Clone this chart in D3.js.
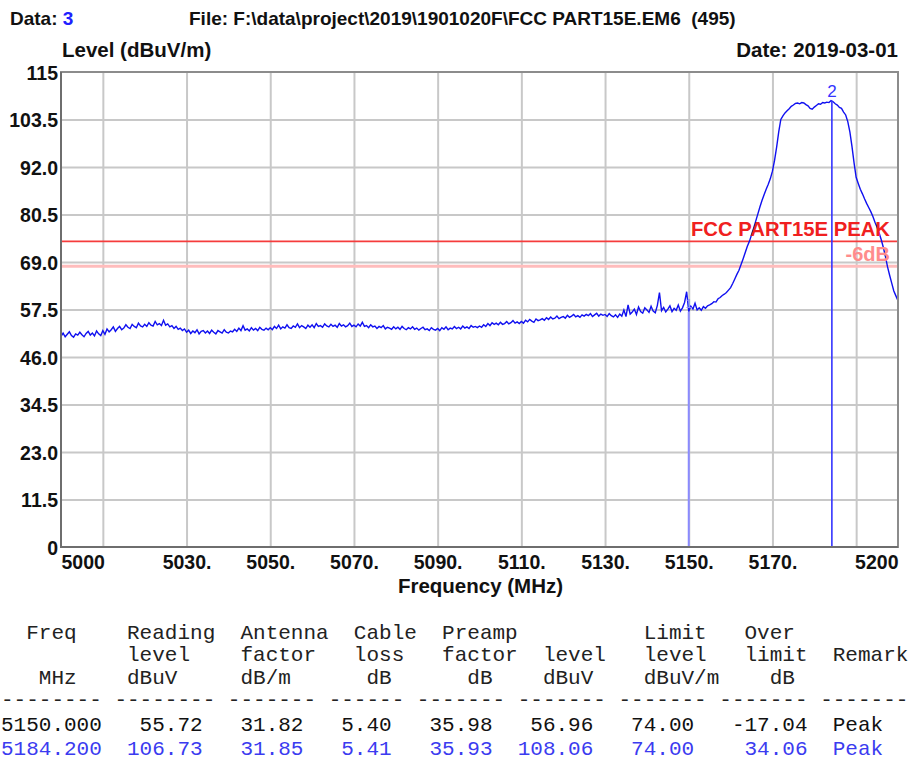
<!DOCTYPE html>
<html>
<head>
<meta charset="utf-8">
<script src="https://cdn.jsdelivr.net/npm/d3@7"></script>
<style>
    body { margin: 0; background: #fff; }
    svg { display: block; }
    .lbl { font-family: "Liberation Sans", Arial, sans-serif; font-weight: bold; font-size: 19px; fill: #111; }
    .title { font-size: 20.5px; }
    .tick-lbl { font-size: 19.5px; }
    .tbl { font-family: "Liberation Mono", monospace; font-size: 21px; white-space: pre; }
    .grid line { stroke: #c8c8c8; stroke-width: 2; }
    .grid .domain { display: none; }
    .axis .domain, .axis line { display: none; }
</style>
</head>
<body>
<div id="chart"></div>
<script>
const width = 914;
const height = 760;

const plot = { left: 61, right: 898, top: 72, bottom: 547 };

// trace: 5000 .. 5200 MHz, 0.5 MHz step
const freqStart = 5000;
const freqStep = 0.5;
const levels = [
    51.0, 51.8, 50.9, 51.5, 52.1, 51.2, 50.8, 51.6, 51.3, 52.0,
    51.4, 50.9, 51.7, 52.2, 51.3, 51.8, 51.1, 52.3, 51.6, 51.2,
    52.4, 51.5, 52.8, 52.1, 52.6, 53.3, 52.2, 52.9, 53.4, 52.6,
    53.0, 53.8, 53.2, 52.9, 53.9, 53.4, 53.1, 54.2, 53.5, 53.3,
    53.9, 53.4, 54.3, 53.7, 53.5, 54.6, 53.8, 54.1, 53.6, 54.9,
    53.7, 54.0, 53.3, 53.6, 52.9, 53.4, 52.7, 53.0, 52.4, 52.8,
    52.0, 52.5, 51.7, 52.3, 51.9, 52.6, 51.6, 52.2, 52.4, 51.8,
    52.3, 51.7, 52.5, 52.0, 51.6, 52.4, 52.1, 51.8, 52.6, 52.0,
    51.8, 52.3, 52.1, 52.7, 52.2, 53.0, 52.4, 53.6, 52.5, 52.8,
    52.3, 53.1, 52.5, 52.9, 52.4, 53.2, 52.7, 52.5, 53.0, 52.6,
    53.1, 52.6, 53.4, 52.9, 53.7, 52.8, 53.3, 53.0, 53.8, 53.1,
    52.9, 53.5, 53.2, 54.0, 53.1, 53.6, 53.3, 52.9, 53.7, 53.2,
    53.8, 53.1, 54.1, 53.4, 53.6, 53.2, 54.0, 53.5, 53.3, 53.9,
    53.4, 53.7, 53.2, 54.1, 53.5, 53.8, 53.3, 53.6, 54.2, 53.4,
    53.7, 53.3, 54.0, 53.5, 54.4, 53.4, 53.6, 53.1, 53.8, 53.3,
    53.5, 52.9, 53.4, 53.1, 53.6, 52.8, 53.2, 53.0, 52.7, 53.3,
    52.8, 53.2, 52.7, 53.4, 52.9, 52.6, 53.1, 52.8, 53.3, 52.7,
    53.0, 52.5, 52.9, 53.2, 52.6, 52.8, 52.4, 53.1, 52.7, 52.5,
    52.9, 52.4, 53.1, 52.7, 53.3, 52.6, 53.0, 52.8, 53.4, 52.9,
    53.2, 52.8, 53.5, 53.0, 53.3, 52.9, 53.6, 53.2, 53.4, 53.1,
    53.5, 53.2, 53.8, 53.4, 54.1, 53.6, 54.3, 53.9, 54.2, 53.8,
    54.4, 53.9, 54.1, 54.6, 54.0, 54.3, 54.8, 54.2, 54.5, 54.1,
    54.6, 54.2, 54.9, 54.5, 55.1, 54.7, 54.4, 55.2, 54.8, 55.0,
    55.3, 54.9, 55.5, 55.1, 55.7, 55.2, 55.4, 55.9, 55.3, 55.6,
    55.8, 55.4, 56.1, 55.6, 55.9, 56.3, 55.7, 56.0, 55.6, 56.2,
    55.9, 56.3, 56.0, 56.5, 55.8, 56.2, 56.6, 55.9, 56.4, 56.1,
    56.3, 55.8, 56.5, 56.0, 55.7, 56.2, 55.6, 56.4, 55.9, 57.4,
    55.8, 58.6, 56.4, 56.9, 57.6, 56.3, 58.1, 57.0, 56.6, 57.9,
    57.4, 56.8, 58.3, 57.1, 56.7, 58.5, 61.6, 57.2, 58.0, 56.9,
    57.6, 58.4, 57.0, 57.8, 57.3, 58.6, 57.1, 57.9, 59.2, 61.8,
    57.0, 58.3, 57.6, 59.0, 57.4, 57.9, 57.3, 58.2, 57.8, 58.4,
    58.6, 58.9, 59.4, 59.3, 60.1, 60.4, 60.9, 61.2, 61.6, 62.2,
    62.8, 63.8, 64.9, 66.0, 67.0, 68.4, 69.8, 71.3, 72.8, 74.0,
    75.6, 77.2, 78.9, 80.6, 82.3, 83.9, 85.3, 86.6, 87.8, 89.2,
    91.0, 93.6, 96.8, 100.5, 103.5, 104.4, 105.1, 105.6, 106.1, 106.7,
    107.0, 107.4, 107.5, 107.3, 107.6, 107.5, 107.1, 106.8, 106.2, 106.0,
    106.5, 106.9, 107.3, 107.2, 107.6, 107.5, 107.7, 107.6, 108.06, 107.8,
    107.3, 107.0, 106.4, 106.2, 105.3, 104.6, 103.0, 100.5, 97.0, 93.0,
    89.5, 88.0, 86.6, 85.5, 84.3, 83.2, 82.2, 81.2, 80.0, 78.6,
    77.4, 76.0, 74.4, 72.5, 70.3, 67.8, 65.8, 63.9, 62.0, 60.8,
    59.6
];

const yTicks = [0, 11.5, 23, 34.5, 46, 57.5, 69, 80.5, 92, 103.5, 115];
const yTickLabels = ["0", "11.5", "23.0", "34.5", "46.0", "57.5", "69.0", "80.5", "92.0", "103.5", "115"];
const xGrid = [5010, 5030, 5050, 5070, 5090, 5110, 5130, 5150, 5170, 5190];
const xTicks = [5000, 5030, 5050, 5070, 5090, 5110, 5130, 5150, 5170, 5200];
const xTickLabels = ["5000", "5030.", "5050.", "5070.", "5090.", "5110.", "5130.", "5150.", "5170.", "5200"];

const limitLevel = 74;
const limitName = "FCC PART15E PEAK";
const marginLevel = 68;
const marginName = "-6dB";

const markerLabels = ["1", "2"];
const markerFreqs = [5150.0, 5184.2];
const markerLevels = [56.96, 108.06];

const tableHeader = [
    "  Freq    Reading  Antenna  Cable  Preamp          Limit   Over",
    "          level    factor   loss   factor  level   level   limit  Remark",
    "   MHz    dBuV     dB/m      dB      dB    dBuV    dBuV/m    dB",
    "-------- -------- ------- ------ ------- ------- ------- ------- -------"
];
const tableRows = [
    "5150.000   55.72   31.82   5.40   35.98   56.96   74.00   -17.04  Peak",
    "5184.200  106.73   31.85   5.41   35.93  108.06   74.00    34.06  Peak"
];
const rowColors = ["#111", "#3b3bf0"];

////////////////////////////////////////////////////////
// SVG + SCALES
////////////////////////////////////////////////////////

const svg = d3.select("#chart")
    .append("svg")
    .attr("width", width)
    .attr("height", height);

svg.append("rect").attr("width", width).attr("height", height).attr("fill", "#fff");

const x = d3.scaleLinear()
    .domain([5000, 5200])
    .range([plot.left, plot.right]);

const y = d3.scaleLinear()
    .domain([0, 115])
    .range([plot.bottom, plot.top]);

// GRID
svg.append("g")
    .attr("class", "grid")
    .attr("transform", `translate(${plot.left},0)`)
    .call(d3.axisLeft(y).tickValues(yTicks.slice(1, -1))
        .tickSize(-(plot.right - plot.left)).tickFormat(""));

svg.append("g")
    .attr("class", "grid")
    .attr("transform", `translate(0,${plot.bottom})`)
    .call(d3.axisBottom(x).tickValues(xGrid)
        .tickSize(-(plot.bottom - plot.top)).tickFormat(""));

// LIMIT LINES
svg.append("line")
    .attr("x1", x(5000)).attr("x2", x(5200))
    .attr("y1", y(marginLevel)).attr("y2", y(marginLevel))
    .attr("stroke", "#ffbcbc").attr("stroke-width", 3);

svg.append("line")
    .attr("x1", x(5000)).attr("x2", x(5200))
    .attr("y1", y(limitLevel)).attr("y2", y(limitLevel))
    .attr("stroke", "#f53c3c").attr("stroke-width", 1.6);

// TRACE
const line = d3.line()
    .x((d, i) => x(freqStart + i * freqStep))
    .y(d => y(d));

svg.append("path")
    .datum(levels)
    .attr("fill", "none")
    .attr("stroke", "#1010f0")
    .attr("stroke-width", 1.4)
    .attr("d", line);

// LIMIT TEXT
svg.append("text")
    .attr("class", "lbl")
    .attr("x", plot.right - 8)
    .attr("y", y(limitLevel) - 5)
    .attr("text-anchor", "end")
    .style("fill", "#f02020")
    .style("font-size", "20.3px")
    .text(limitName);

svg.append("text")
    .attr("class", "lbl")
    .attr("x", plot.right - 8)
    .attr("y", y(marginLevel) - 5)
    .attr("text-anchor", "end")
    .style("fill", "#ff8c8c")
    .style("font-size", "20px")
    .text(marginName);

// MARKERS
const markerColors = ["#8a8aff", "#3434ff"];
markerFreqs.forEach((f, i) => {
    svg.append("line")
        .attr("x1", x(f)).attr("x2", x(f))
        .attr("y1", y(0)).attr("y2", y(markerLevels[i]))
        .attr("stroke", markerColors[i])
        .attr("stroke-width", i === 0 ? 2 : 1.6);
    svg.append("text")
        .attr("x", x(f))
        .attr("y", y(markerLevels[i]) - 4)
        .attr("text-anchor", "middle")
        .style("font-family", "Liberation Sans, Arial, sans-serif")
        .style("font-size", i === 0 ? "12px" : "17px")
        .style("fill", markerColors[i])
        .text(markerLabels[i]);
});

// FRAME
svg.append("rect")
    .attr("x", plot.left).attr("y", plot.top)
    .attr("width", plot.right - plot.left)
    .attr("height", plot.bottom - plot.top)
    .attr("fill", "none")
    .attr("stroke", "#8c8c8c")
    .attr("stroke-width", 2);

svg.append("path")
    .attr("d", `M${plot.left},${plot.top}V${plot.bottom}H${plot.right}`)
    .attr("fill", "none")
    .attr("stroke", "#6e6e6e")
    .attr("stroke-width", 2);

// Y AXIS
const yAxis = svg.append("g")
    .attr("class", "axis")
    .attr("transform", `translate(${plot.left},0)`)
    .call(d3.axisLeft(y).tickValues(yTicks).tickSize(0).tickPadding(3)
        .tickFormat((d, i) => yTickLabels[i]));
yAxis.attr("font-family", null).attr("font-size", null);
yAxis.selectAll("text")
    .attr("class", "lbl tick-lbl")
    .attr("dy", "0.36em");

// X AXIS
const xAxis = svg.append("g")
    .attr("class", "axis")
    .attr("transform", `translate(0,${plot.bottom})`)
    .call(d3.axisBottom(x).tickValues(xTicks).tickSize(0).tickPadding(8)
        .tickFormat((d, i) => xTickLabels[i]));
xAxis.attr("font-family", null).attr("font-size", null);
xAxis.selectAll("text")
    .attr("class", "lbl tick-lbl")
    .attr("dy", "0.71em")
    .attr("text-anchor", (d, i) => i === 0 ? "start" : i === xTicks.length - 1 ? "end" : "middle");

// LABELS
svg.append("text").attr("class", "lbl title")
    .attr("x", (plot.left + plot.right) / 2 + 1).attr("y", 593)
    .attr("text-anchor", "middle")
    .text("Frequency (MHz)");

svg.append("text").attr("class", "lbl title")
    .attr("x", plot.left + 1).attr("y", 57)
    .text("Level (dBuV/m)");

svg.append("text").attr("class", "lbl title")
    .attr("x", plot.right).attr("y", 57)
    .attr("text-anchor", "end")
    .text("Date: 2019-03-01");

const dataLbl = svg.append("text").attr("class", "lbl")
    .attr("x", 10).attr("y", 25);
dataLbl.append("tspan").text("Data: ");
dataLbl.append("tspan").style("fill", "#2020ff").text("3");

svg.append("text").attr("class", "lbl")
    .attr("x", 189).attr("y", 25)
    .style("white-space", "pre")
    .text("File: F:\\data\\project\\2019\\1901020F\\FCC PART15E.EM6  (495)");

// TABLE
const headerY = [639, 661, 684, 706];
tableHeader.forEach((t, i) => {
    svg.append("text")
        .attr("class", "tbl")
        .attr("x", 1)
        .attr("y", headerY[i])
        .style("fill", "#222")
        .text(t);
});

const rowY = [731, 755];
tableRows.forEach((t, i) => {
    svg.append("text")
        .attr("class", "tbl")
        .attr("x", 1)
        .attr("y", rowY[i])
        .style("fill", rowColors[i])
        .text(t);
});
</script>
</body>
</html>
